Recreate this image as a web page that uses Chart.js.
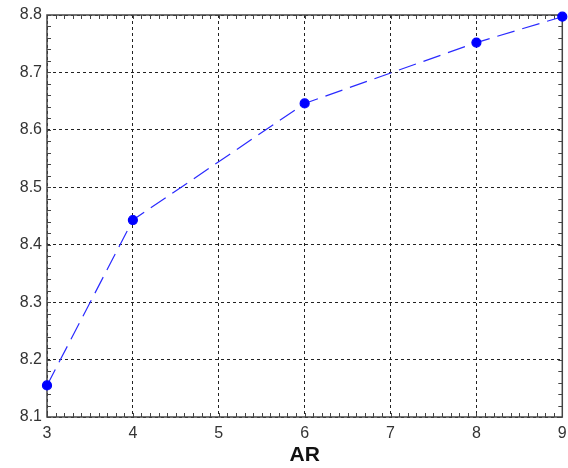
<!DOCTYPE html>
<html>
<head>
<meta charset="utf-8">
<script src="https://cdn.jsdelivr.net/npm/chart.js@4/dist/chart.umd.min.js"></script>
<style>
  html, body { margin: 0; padding: 0; background: #fff; }
  .wrap { width: 568px; height: 468px; position: relative; }
</style>
</head>
<body>
<div class="wrap"><canvas id="c"></canvas></div>
<script>
  // values
  const arValues = [3, 4, 6, 8, 9];
  const yValues = [8.155, 8.443, 8.646, 8.752, 8.797];
  const xTitle = 'AR';

  /* Frame + small inward ticks on all four sides, placed through the scales */
  const frameTicks = {
    id: 'frameTicks',
    beforeDatasetsDraw(chart) {
      const { ctx, chartArea: a, scales: { x, y } } = chart;
      ctx.save();
      ctx.strokeStyle = '#444';
      ctx.lineWidth = 1;
      ctx.beginPath();
      for (let v = x.min; v <= x.max + 1e-9; v += 0.1) {
        const px = Math.round(x.getPixelForValue(v)) + 0.5;
        ctx.moveTo(px, a.bottom); ctx.lineTo(px, a.bottom - 4);
        ctx.moveTo(px, a.top); ctx.lineTo(px, a.top + 4);
      }
      for (let v = y.min; v <= y.max + 1e-9; v += 0.02) {
        const py = Math.round(y.getPixelForValue(v)) + 0.5;
        ctx.moveTo(a.left, py); ctx.lineTo(a.left + 4, py);
        ctx.moveTo(a.right, py); ctx.lineTo(a.right - 4, py);
      }
      ctx.stroke();
      ctx.lineWidth = 1.5;
      ctx.strokeRect(a.left, a.top, a.right - a.left, a.bottom - a.top);
      ctx.restore();
    }
  };

  const tickFont = { family: 'Arial, "Liberation Sans", sans-serif', size: 16 };

  new Chart(document.getElementById('c'), {
    type: 'scatter',
    data: {
      datasets: [{
        data: arValues.map((v, i) => ({ x: v, y: yValues[i] })),
        showLine: true,
        clip: false,
        borderColor: '#2a2aff',
        borderWidth: 1.2,
        borderDash: [18, 8],
        backgroundColor: '#0000ff',
        pointBackgroundColor: '#0000ff',
        pointBorderColor: '#0000ff',
        pointRadius: 4.5,
        pointHoverRadius: 4.5,
        tension: 0
      }]
    },
    options: {
      responsive: true,
      maintainAspectRatio: false,
      animation: false,
      layout: { padding: { top: 15, right: 5, left: 0, bottom: 0 } },
      plugins: {
        legend: { display: false },
        tooltip: { enabled: false }
      },
      scales: {
        x: {
          type: 'linear',
          min: 3,
          max: 9,
          ticks: {
            stepSize: 1,
            color: '#333',
            font: tickFont,
            padding: 7,
            callback: v => String(v)
          },
          grid: { color: '#222', lineWidth: 1, drawTicks: false },
          border: { display: false, dash: [3, 3] },
          title: {
            display: true,
            text: xTitle,
            color: '#111',
            font: { family: 'Arial, "Liberation Sans", sans-serif', size: 21, weight: 'bold' },
            padding: { top: 2, bottom: 0 }
          },
          afterFit: s => { s.height = 51; s.paddingLeft = 0; s.paddingRight = 0; }
        },
        y: {
          type: 'linear',
          min: 8.1,
          max: 8.8,
          ticks: {
            stepSize: 0.1,
            color: '#333',
            font: tickFont,
            padding: 5,
            callback: v => Number(v).toFixed(1)
          },
          grid: { color: '#222', lineWidth: 1, drawTicks: false },
          border: { display: false, dash: [3, 3] },
          afterFit: s => { s.width = 47; }
        }
      }
    },
    plugins: [frameTicks]
  });
</script>
</body>
</html>
